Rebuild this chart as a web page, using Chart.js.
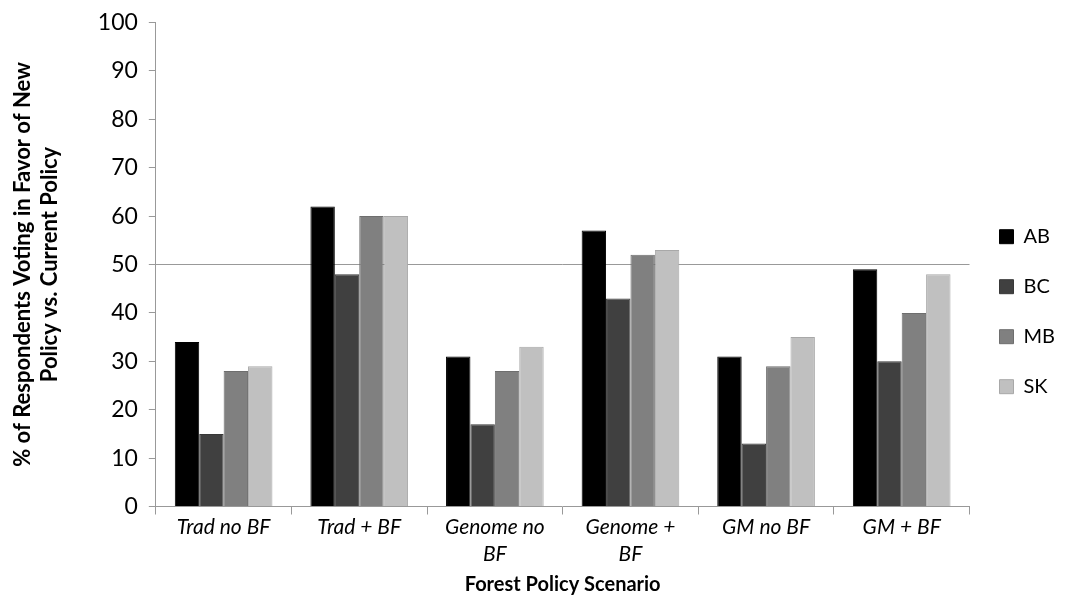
<!DOCTYPE html>
<html>
<head>
<meta charset="utf-8">
<script src="https://cdn.jsdelivr.net/npm/chart.js@4"></script>
<style>
  html, body { margin: 0; padding: 0; background: #fff; }
  #wrap { width: 1071px; height: 609px; }
</style>
</head>
<body>
<div id="wrap"><canvas id="chart"></canvas></div>
<script>
const scenarios = [["Trad no BF"], ["Trad + BF"], ["Genome no", "BF"], ["Genome +", "BF"], ["GM no BF"], ["GM + BF"]];
const abValues = [34, 62, 31, 57, 31, 49];
const bcValues = [15, 48, 17, 43, 13, 30];
const mbValues = [28, 60, 28, 52, 29, 40];
const skValues = [29, 60, 33, 53, 35, 48];
const yTicks = [0, 10, 20, 30, 40, 50, 60, 70, 80, 90, 100];

const axisGray = "#999";
const fontFamily = "Lato, 'Open Sans', sans-serif";

new Chart(document.getElementById("chart").getContext("2d"), {
  type: "bar",
  data: {
    labels: scenarios,
    datasets: [
      { label: "AB", data: abValues, backgroundColor: "#000000", borderColor: "#000000", borderWidth: 1 },
      { label: "BC", data: bcValues, backgroundColor: "#404040", borderColor: "#383838", borderWidth: 1 },
      { label: "MB", data: mbValues, backgroundColor: "#808080", borderColor: "#6e6e6e", borderWidth: 1 },
      { label: "SK", data: skValues, backgroundColor: "#c0c0c0", borderColor: "#a8a8a8", borderWidth: 1 }
    ]
  },
  options: {
    responsive: true,
    maintainAspectRatio: false,
    animation: false,
    layout: { padding: { top: 2, right: 6, bottom: 8, left: 6 } },
    datasets: { bar: { barPercentage: 1, categoryPercentage: 0.72 } },
    plugins: {
      tooltip: { enabled: false },
      legend: {
        position: "right",
        title: { display: true, text: " ", padding: 0, font: { size: 17 } },
        labels: {
          boxWidth: 14,
          boxHeight: 14,
          padding: 30,
          color: "#000",
          font: { family: fontFamily, size: 20 }
        }
      }
    },
    scales: {
      x: {
        grid: { offset: true, drawOnChartArea: false, drawTicks: true, tickLength: 8, tickColor: axisGray },
        border: { color: axisGray },
        ticks: { color: "#000", maxRotation: 0, padding: 0, font: { family: fontFamily, size: 21, style: "italic", lineHeight: 1.25 } },
        title: { display: true, text: "Forest Policy Scenario", color: "#000", padding: { top: 6 }, font: { family: fontFamily, size: 20, weight: "bold" } }
      },
      y: {
        min: 0,
        max: 100,
        afterBuildTicks: axis => { axis.ticks = yTicks.map(v => ({ value: v })); },
        grid: {
          color: ctx => (ctx.tick && ctx.tick.value === 50 ? axisGray : "rgba(0,0,0,0)"),
          tickColor: axisGray,
          tickLength: 7
        },
        border: { color: axisGray },
        ticks: { color: "#000", padding: 11, font: { family: fontFamily, size: 23, lineHeight: 1 } },
        title: { display: true, text: ["% of Respondents Voting in Favor of New", "Policy vs. Current Policy"], color: "#000", padding: { bottom: 24 }, font: { family: fontFamily, size: 22, weight: "bold", lineHeight: 1.2 } }
      }
    }
  }
});
</script>
</body>
</html>
